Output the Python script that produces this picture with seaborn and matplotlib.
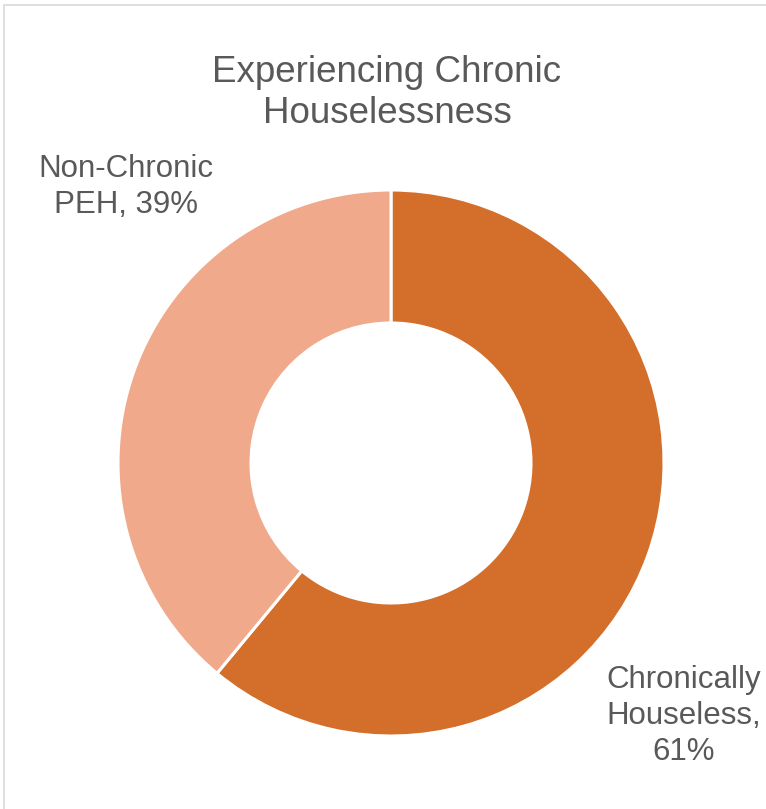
import matplotlib
matplotlib.use("Agg")
import matplotlib.pyplot as plt
import seaborn as sns
from matplotlib.patches import Rectangle

# Share of people experiencing homelessness by chronic status
categories = ["Chronically Houseless", "Non-Chronic PEH"]
shares = [61, 39]
label_lines = [["Chronically", "Houseless,", "61%"], ["Non-Chronic", "PEH, 39%"]]
title = "Experiencing Chronic\nHouselessness"

sns.set_theme(style="white")
plt.rcParams["font.family"] = ["Liberation Sans", "DejaVu Sans"]

colors = ["#D46E2B", "#F0A98A"]
text_color = "#595959"

W, H = 766, 809
fig = plt.figure(figsize=(W / 100, H / 100), dpi=100)
fig.patch.set_facecolor("white")

# Light frame around the chart area
fig.add_artist(Rectangle((4 / W, -0.01), 1.02, 1 - 5 / H + 0.01,
                         transform=fig.transFigure, fill=False,
                         edgecolor="#D9D9D9", linewidth=1.2))

cx, cy, r = 391, 463, 273
ax = fig.add_axes([(cx - r) / W, (H - cy - r) / H, 2 * r / W, 2 * r / H])
ax.pie(shares, colors=colors, startangle=90, counterclock=False,
       radius=1.0,
       wedgeprops=dict(width=1 - 140 / 273, edgecolor="white", linewidth=2.2))
ax.set_xlim(-1, 1)
ax.set_ylim(-1, 1)
ax.set_aspect("equal")
ax.axis("off")

fig.text(387 / W, 1 - 93 / H, title, ha="center", va="center",
         fontsize=26.5, color=text_color, linespacing=1.22)
fig.text(684 / W, 1 - 716 / H, "\n".join(label_lines[0]), ha="center",
         va="center", fontsize=22.5, color=text_color, linespacing=1.28)
fig.text(126 / W, 1 - 187 / H, "\n".join(label_lines[1]), ha="center",
         va="center", fontsize=22.5, color=text_color, linespacing=1.28)

fig.savefig("out.png", dpi=100, facecolor="white")
